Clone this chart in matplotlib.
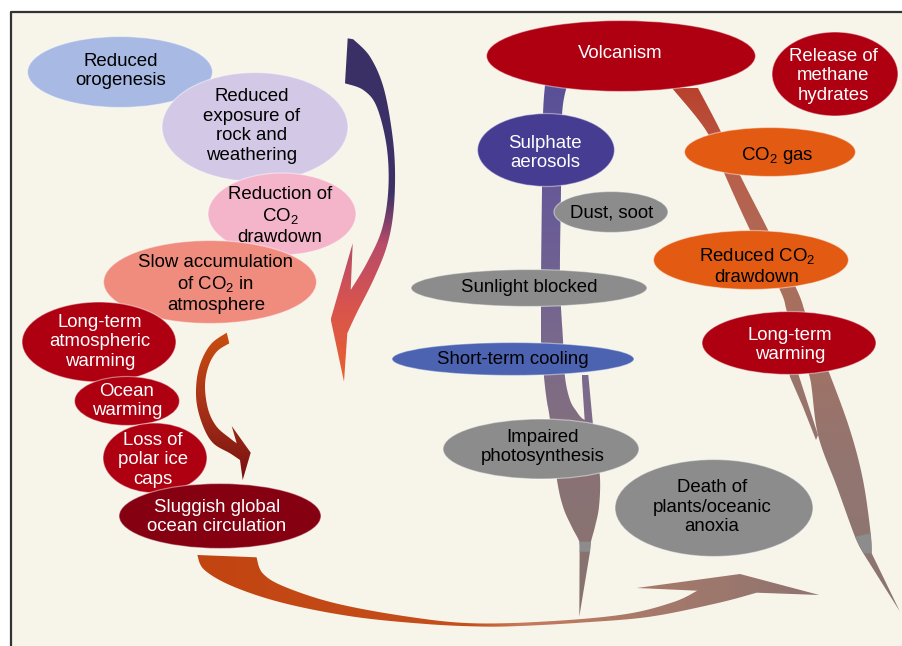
import numpy as np
import matplotlib
matplotlib.use("Agg")
import matplotlib.pyplot as plt
from matplotlib.patches import Ellipse, Polygon, Rectangle
from matplotlib.colors import LinearSegmentedColormap

plt.rcParams['font.family'] = ['Liberation Sans', 'DejaVu Sans']
plt.rcParams['mathtext.fontset'] = 'custom'
plt.rcParams['mathtext.rm'] = 'Liberation Sans'
plt.rcParams['mathtext.it'] = 'Liberation Sans:italic'

# node labels (diagram content)
labels = [
    "Reduced\norogenesis",
    "Reduced\nexposure of\nrock and\nweathering",
    "Reduction of\nCO$_2$\ndrawdown",
    "Slow accumulation\nof CO$_2$ in\natmosphere",
    "Long-term\natmospheric\nwarming",
    "Ocean\nwarming",
    "Loss of\npolar ice\ncaps",
    "Sluggish global\nocean circulation",
    "Volcanism",
    "Release of\nmethane\nhydrates",
    "Sulphate\naerosols",
    "CO$_2$ gas",
    "Dust, soot",
    "Reduced CO$_2$\ndrawdown",
    "Sunlight blocked",
    "Long-term\nwarming",
    "Short-term cooling",
    "Impaired\nphotosynthesis",
    "Death of\nplants/oceanic\nanoxia",
]

# layout in pixel space: ellipse centre, size, text centre
centers = [(120, 72), (255, 127), (282, 214), (210, 282), (99, 342), (127, 401),
           (155, 458), (220, 516), (621, 56), (835, 74), (546, 150), (770, 152),
           (611, 212), (751, 260), (529, 288), (789, 343), (513, 359), (541, 449),
           (714, 508)]
sizes = [(185, 71), (186, 109), (148, 82), (213, 83), (154, 80), (105, 49),
         (104, 70), (202, 65), (269, 71), (126, 84), (137, 73), (171, 49),
         (114, 41), (195, 59), (236, 37), (174, 63), (242, 33), (196, 60),
         (198, 97)]
text_pos = [(121, 71), (252, 126), (280, 216), (216, 284), (100, 342), (127, 401),
            (153, 460), (217, 517), (620, 54), (833, 76), (545, 153), (777, 155),
            (612, 213), (757, 266), (529, 288), (790, 345), (513, 359), (543, 447),
            (712, 507)]
fills = ['#a8b9e3', '#d3c9e6', '#f4b5ca', '#f08c7d', '#ae0010', '#ae0010',
         '#ae0010', '#850010', '#ae0010', '#ae0010', '#463d93', '#e35a12',
         '#8c8c8c', '#e35a12', '#8c8c8c', '#ae0010', '#4b63b1', '#8c8c8c',
         '#8c8c8c']
text_cols = ['black'] * 4 + ['white'] * 6 + ['white', 'black', 'black', 'black',
             'black', 'white', 'black', 'black', 'black']

# connector arrows: outlines as runs of points (runs of 3+ points are drawn smooth)
arrow_down = [
    [(347.7, 38.3)],
    [(353.3, 39.3), (370, 56.7), (383.3, 86.7), (391.7, 130), (395, 170),
     (393.3, 213), (386.7, 246.7), (373.3, 280), (356.7, 313), (347.3, 333.3)],
    [(344, 381.7)], [(330.7, 319.3)], [(352.7, 243.3)],
    [(350.7, 290), (366.7, 263.3), (381.7, 230), (388.3, 190), (386.7, 146.7),
     (376.7, 106.7), (363.3, 90), (345, 83.3)],
]
arrow_small = [
    [(226.7, 332.7)],
    [(229.3, 343.3), (216.7, 351.7), (208.3, 366.7), (205, 386.7), (208.3, 410),
     (216.7, 426.7), (230, 438.3), (236.7, 443.3)],
    [(231.7, 426)], [(250.7, 452.7)], [(242.7, 480)],
    [(240, 460), (230, 453.3), (213.3, 443.3), (203.3, 426.7), (196.7, 403.3),
     (196.7, 380), (201.7, 360), (211.7, 343.3), (226.7, 332.7)],
]
arrow_bottom = [
    [(256.5, 557.3), (262.7, 573.3), (284.5, 586.7), (335.5, 603.3), (408.2, 616.7),
     (473.6, 623.3), (553.6, 621), (626.4, 614), (673.6, 602), (697.3, 590.7)],
    [(636.7, 588)], [(740, 574)], [(819.3, 595)],
    [(756.7, 592.7), (716.7, 603.3), (650, 616.7), (583, 622.5), (520, 626),
     (480, 626.5), (426, 624), (353.6, 616.7), (284.5, 603.3), (233.6, 586.7),
     (204.5, 570), (197.3, 555)],
]
stem_left = [
    [(545, 85), (543, 115), (542, 190), (541, 280), (541, 340), (544, 377),
     (546.7, 400), (550, 420), (556.7, 478), (563, 506.7), (571.7, 526.7),
     (579.3, 541.7), (579.6, 551.7)],
    [(579.3, 616.7)],
    [(590, 551.7), (591, 541.7), (595, 526.7), (599, 506.7), (600, 478),
     (596, 450), (590, 425), (581.7, 418), (576.7, 411.7), (570, 400), (565, 377),
     (563, 340), (560, 280), (561, 190), (562, 115), (567, 85)],
]
branch_left = [[(581.7, 375)], [(588.3, 375)], [(593, 425)], [(585, 425)]]
tip_left = [[(579.3, 541.7)], [(591, 541.7)], [(590, 551.7)], [(579.6, 551.7)]]
stem_right = [
    [(672, 88), (707, 132), (725, 175), (750, 230), (780, 290), (787, 312),
     (800, 360), (810, 378), (818, 435), (837, 487), (855, 536.7), (863.3, 553.3)],
    [(900, 611.7)],
    [(871.7, 553.3), (870.7, 533.3), (863, 480), (850, 430), (830, 375),
     (815, 340), (805, 312), (797, 290), (768, 230), (740, 175), (721, 132),
     (698, 88)],
]
branch_right = [[(788, 365)], [(797, 370)], [(818, 435)], [(816, 440)],
                [(803, 407)], [(790, 377)]]
tip_right = [[(855, 536.7)], [(870.7, 533.3)], [(871.7, 553.3)], [(863.3, 553.3)]]


def smooth(run, n=12):
    # Catmull-Rom through the points of one run
    p = np.array(run, dtype=float)
    if len(p) < 3:
        return p
    ext = np.vstack([p[0], p, p[-1]])
    out = []
    for i in range(1, len(ext) - 2):
        p0, p1, p2, p3 = ext[i - 1], ext[i], ext[i + 1], ext[i + 2]
        for t in np.linspace(0, 1, n, endpoint=False):
            t2, t3 = t * t, t * t * t
            out.append(0.5 * ((2 * p1) + (-p0 + p2) * t +
                              (2 * p0 - 5 * p1 + 4 * p2 - p3) * t2 +
                              (-p0 + 3 * p1 - 3 * p2 + p3) * t3))
    out.append(p[-1])
    return np.array(out)


def outline(runs):
    return np.vstack([smooth(r) for r in runs])


def grad_poly(ax, runs, stops, horizontal=False, z=2):
    pts = outline(runs)
    poly = Polygon(pts, closed=True, facecolor='none', edgecolor='none')
    ax.add_patch(poly)
    cmap = LinearSegmentedColormap.from_list('g', stops)
    g = np.linspace(0, 1, 256)
    img = g.reshape(1, -1) if horizontal else g.reshape(-1, 1)
    im = ax.imshow(img, extent=[pts[:, 0].min(), pts[:, 0].max(), pts[:, 1].max(),
                                pts[:, 1].min()], origin='upper', cmap=cmap,
                   aspect='auto', interpolation='bilinear', zorder=z)
    im.set_clip_path(poly)


def main():
    fig = plt.figure(figsize=(9.03, 6.46), dpi=100, facecolor='white')
    ax = fig.add_axes([0, 0, 1, 1])
    ax.axis('off')

    ax.add_patch(Rectangle((11, 12), 900, 640, facecolor='#f7f5e9', edgecolor='none', zorder=0))
    ax.plot([11, 11, 903], [646, 12, 12], color='#333333', lw=1.6, zorder=1,
            solid_capstyle='butt')

    grad_poly(ax, arrow_down, [(0, '#3a3066'), (0.45, '#3c3268'), (0.6, '#b84c6a'),
                               (0.78, '#d8544e'), (1, '#e8622c')])
    grad_poly(ax, arrow_small, [(0, '#c84e10'), (0.5, '#a83218'), (1, '#761010')])
    grad_poly(ax, arrow_bottom, [(0, '#c24410'), (0.44, '#c4501e'), (0.52, '#c8795a'),
                                 (0.71, '#a87a6a'), (1, '#8e7470')], horizontal=True)
    grad_poly(ax, stem_left, [(0, '#5a5098'), (0.25, '#6a5c96'), (0.5, '#7a6a8c'),
                              (0.75, '#8a7274'), (1, '#88726e')])
    grad_poly(ax, branch_left, ['#7a6a8c', '#7e6c86'])
    ax.add_patch(Polygon(outline(tip_left), closed=True, facecolor='#8c8c8c',
                         edgecolor='none', zorder=3))
    grad_poly(ax, stem_right, [(0, '#b8422e'), (0.17, '#b8604c'), (0.4, '#a8705e'),
                               (0.7, '#947570'), (1, '#8a7672')])
    grad_poly(ax, branch_right, ['#9a7468', '#957470'])
    ax.add_patch(Polygon(outline(tip_right), closed=True, facecolor='#8c8c8c',
                         edgecolor='none', zorder=3))

    for i, lab in enumerate(labels):
        (cx, cy), (w, h) = centers[i], sizes[i]
        ax.add_patch(Ellipse((cx, cy), w, h, facecolor=fills[i],
                             edgecolor=(1, 1, 1, 0.45), lw=0.9, zorder=4 + i * 0.01))
    for i, lab in enumerate(labels):
        tx, ty = text_pos[i]
        ax.text(tx, ty, lab, ha='center', va='center', ma='center', fontsize=13.4,
                color=text_cols[i], linespacing=1.2, zorder=6)

    ax.set_xlim(0, 903)
    ax.set_ylim(646, 0)
    fig.savefig('out.png', dpi=100, facecolor='white')


if __name__ == '__main__':
    main()
